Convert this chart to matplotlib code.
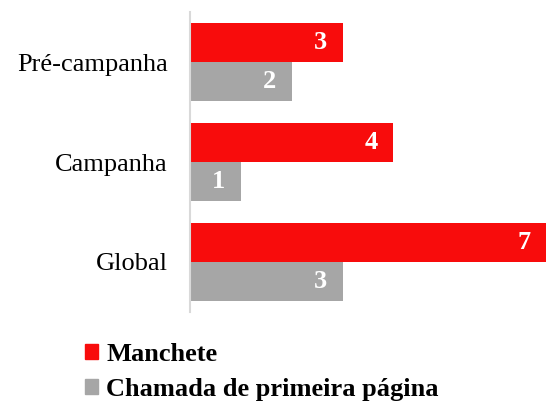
import numpy as np
import matplotlib.pyplot as plt
from matplotlib.patches import Patch

plt.rcParams['font.family'] = ['Liberation Serif', 'DejaVu Serif']

categorias = ["Pré-campanha", "Campanha", "Global"]
manchete = [3, 4, 7]
chamada = [2, 1, 3]
series = ["Manchete", "Chamada de primeira página"]
cores = ["#F80C0C", "#A6A6A6"]

fig = plt.figure(figsize=(5.46, 4.05), dpi=100)
ax = fig.add_axes([190 / 546, 93 / 405, 356 / 546, 300 / 405])

y = np.arange(len(categorias))
h = 0.39
b1 = ax.barh(y - h / 2, manchete, height=h, color=cores[0])
b2 = ax.barh(y + h / 2, chamada, height=h, color=cores[1])

# valores dentro das barras, alinhados a direita
for barras, vals in [(b1, manchete), (b2, chamada)]:
    for b, v in zip(barras, vals):
        ax.annotate(str(v), (v, b.get_y() + b.get_height() / 2),
                    xytext=(-11, 0), textcoords='offset points',
                    ha='right', va='center', color='white',
                    fontsize=19, fontweight='bold')

ax.set_xlim(0, 7)
ax.set_ylim(2.5, -0.5)
ax.set_yticks(y)
ax.set_yticklabels(categorias, fontsize=19)
ax.tick_params(axis='y', length=0, pad=16)
ax.set_xticks([])
for s in ['top', 'right', 'bottom']:
    ax.spines[s].set_visible(False)
ax.spines['left'].set_color('#D9D9D9')
ax.spines['left'].set_linewidth(1.5)

handles = [Patch(color=c, label=s) for c, s in zip(cores, series)]
fig.legend(handles=handles, loc='upper left', bbox_to_anchor=(85 / 546, 1 - 343 / 405),
           frameon=False, borderpad=0, borderaxespad=0,
           handlelength=0.5, handleheight=0.5, handletextpad=0.3,
           labelspacing=0.45, prop={'size': 19, 'weight': 'bold'})

fig.savefig("out.png", dpi=100)
